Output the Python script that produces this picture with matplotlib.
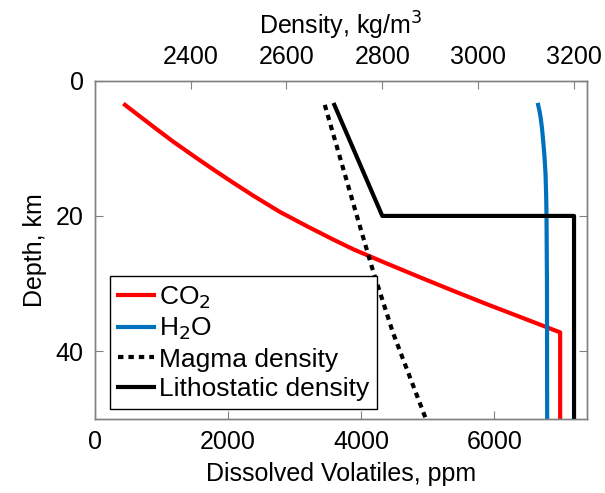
import numpy as np
import matplotlib.pyplot as plt

plt.rcParams['font.family'] = ['Liberation Sans', 'DejaVu Sans']

## volateis dissolvidos (ppm) x profundidade (km)
co2_depth = [3.6, 5.0, 7.0, 9.0, 11.3, 13.0, 15.0, 17.0, 19.4, 21.6, 23.6, 25.0, 27.0, 29.0, 31.0, 33.0, 35.0, 37.2, 50.0]
co2_ppm = [455, 640, 905, 1175, 1508, 1760, 2065, 2380, 2780, 3204, 3605, 3900, 4380, 4870, 5370, 5880, 6410, 6990, 6990]
h2o_depth = [3.6, 4.5, 5.5, 7.0, 8.8, 11.0, 13.7, 17.0, 20.0, 30.0, 50.0]
h2o_ppm = [6659, 6680, 6697, 6717, 6734, 6753, 6770, 6780, 6785, 6792, 6795]

## densidades (kg/m3)
magma_depth = [3.6, 20.0, 27.5, 37.2, 50.0]
magma_rho = [2680, 2747, 2778, 2822, 2891]
litho_depth = [3.6, 20.0, 20.0, 50.0]
litho_rho = [2700, 2800, 3200, 3200]

fig = plt.figure(figsize=(6.05, 4.93), dpi=100)
ax = fig.add_axes([0.1565, 0.150, 0.8145, 0.6867])
ax2 = ax.twiny()

l1, = ax.plot(co2_ppm, co2_depth, color='#ff0000', lw=3, label='CO$_2$')
l2, = ax.plot(h2o_ppm, h2o_depth, color='#0072bd', lw=3, label='H$_2$O')
l3, = ax2.plot(magma_rho, magma_depth, color='k', lw=3, dashes=(1.3, 1.2), label='Magma density')
l4, = ax2.plot(litho_rho, litho_depth, color='k', lw=3, label='Lithostatic density')

ax.set_xlim(0, 7400)
ax.set_ylim(50, 0)
ax2.set_xlim(2200, 3228)
ax.set_xticks([0, 2000, 4000, 6000])
ax.set_yticks([0, 20, 40])
ax2.set_xticks([2400, 2600, 2800, 3000, 3200])

for a in (ax, ax2):
    for s in a.spines.values():
        s.set_color('#808080')
        s.set_linewidth(1.0)
    a.tick_params(direction='in', color='#808080', length=6, labelsize=18, pad=8)
ax.tick_params(axis='y', right=True)
ax.tick_params(axis='x', top=False)

ax.set_xlabel('Dissolved Volatiles, ppm', fontsize=18, labelpad=6)
ax.set_ylabel('Depth, km', fontsize=18, labelpad=6)
ax2.set_xlabel('Density, kg/m$^3$', fontsize=18, labelpad=8)

leg = ax2.legend(handles=[l1, l2, l3, l4], loc='lower left', bbox_to_anchor=(0.031, 0.03),
                 borderaxespad=0, fontsize=19, handlelength=1.35, handletextpad=0.2,
                 labelspacing=0.2, borderpad=0.3, fancybox=False, framealpha=1)
leg.get_frame().set_edgecolor('k')
leg.get_frame().set_linewidth(1.0)

plt.savefig('out.png', dpi=100)
